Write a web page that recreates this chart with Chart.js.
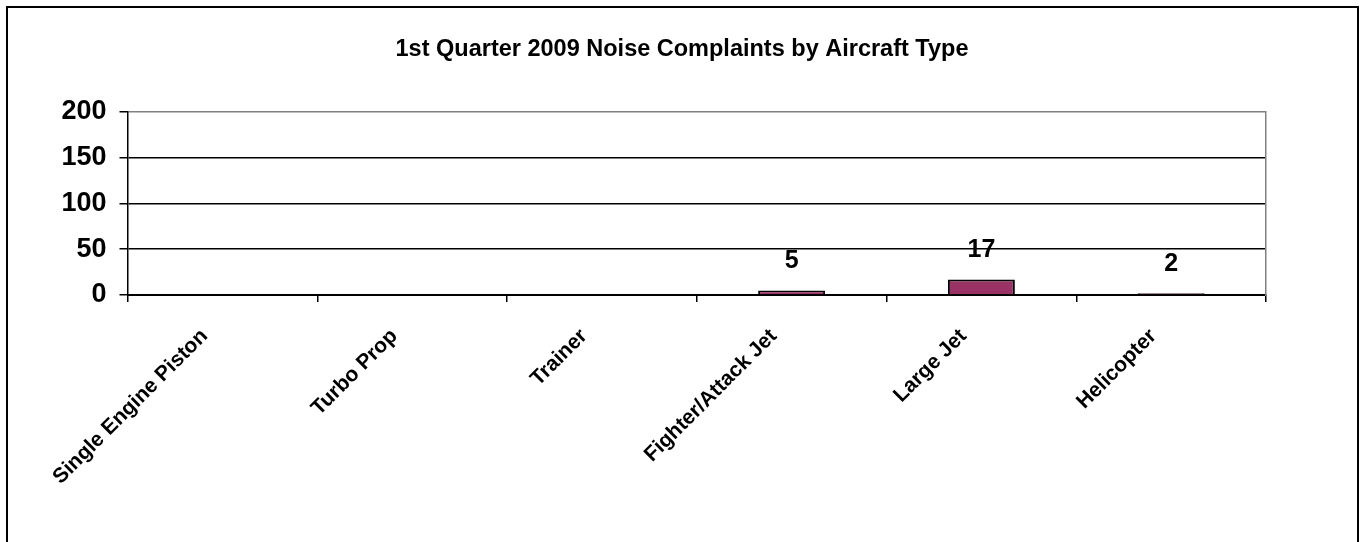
<!DOCTYPE html>
<html>
<head>
<meta charset="utf-8">
<title>1st Quarter 2009 Noise Complaints by Aircraft Type</title>
<script src="https://cdn.jsdelivr.net/npm/chart.js@4.4.1/dist/chart.umd.min.js"></script>
<style>
  html, body { margin: 0; padding: 0; background: #fff; overflow: hidden; }
  #frame { position: absolute; left: 6px; top: 6px; width: 1353px; height: 600px; border: 2px solid #000; box-sizing: border-box; }
  #chart { position: absolute; left: 0; top: 0; }
</style>
</head>
<body>
<div id="frame"></div>
<canvas id="chart" width="1364" height="542"></canvas>
<script>
// chart data
const categories = ['Single Engine Piston', 'Turbo Prop', 'Trainer', 'Fighter/Attack Jet', 'Large Jet', 'Helicopter'];
const complaints = [0, 0, 0, 5, 17, 2];
const yTicks = [0, 50, 100, 150, 200];

const FONT = '"Liberation Sans", Arial, Helvetica, sans-serif';

// draws the value above each bar (only non-zero ones, like the original)
const valueLabels = {
    id: 'valueLabels',
    afterDatasetsDraw(chart) {
        const ctx = chart.ctx;
        const meta = chart.getDatasetMeta(0);
        ctx.save();
        ctx.font = 'bold 25px ' + FONT;
        ctx.fillStyle = '#000';
        ctx.textAlign = 'center';
        ctx.textBaseline = 'middle';
        meta.data.forEach((bar, i) => {
            const v = complaints[i];
            if (!v) return;
            ctx.fillText(String(v), bar.x, bar.y - 29);
        });
        ctx.restore();
    }
};

new Chart(document.getElementById('chart'), {
    type: 'bar',
    data: {
        labels: categories,
        datasets: [{
            label: 'Complaints',
            data: complaints,
            backgroundColor: '#993366',
            borderColor: '#000',
            borderWidth: 2,
            barPercentage: 0.353,
            categoryPercentage: 1
        }]
    },
    options: {
        responsive: false,
        animation: false,
        devicePixelRatio: 1,
        layout: { padding: 0 },
        plugins: {
            legend: { display: false },
            tooltip: { enabled: false },
            title: {
                display: true,
                text: '1st Quarter 2009 Noise Complaints by Aircraft Type',
                color: '#000',
                font: { family: FONT, size: 23.5, weight: 'bold', lineHeight: 1.2 },
                padding: { top: 35, bottom: 48.5 }
            }
        },
        scales: {
            x: {
                grid: { drawOnChartArea: false, drawTicks: true, tickLength: 7, color: '#000', lineWidth: 1.5 },
                border: { color: '#000', width: 2 },
                ticks: {
                    color: '#000',
                    font: { family: FONT, size: 21, weight: 'bold' },
                    minRotation: 45,
                    maxRotation: 45,
                    padding: 22,
                    labelOffset: -18,
                    autoSkip: false
                },
                afterFit(scale) { scale.height = 247; }
            },
            y: {
                min: 0,
                max: 200,
                afterBuildTicks(scale) { scale.ticks = yTicks.map(v => ({ value: v })); },
                grid: {
                    color: c => (c.tick && c.tick.value === 200) ? '#808080' : '#000',
                    tickColor: '#000',
                    lineWidth: 1.5,
                    tickLength: 8
                },
                border: { color: '#000', width: 1.5 },
                ticks: {
                    color: '#000',
                    font: { family: FONT, size: 27, weight: 'bold' },
                    padding: 13
                },
                afterFit(scale) { scale.width = 127.5; }
            },
            yRight: {
                position: 'right',
                display: true,
                grid: { drawOnChartArea: false, drawTicks: false },
                border: { color: '#808080', width: 1.5 },
                ticks: { display: false },
                afterFit(scale) { scale.width = 98; }
            }
        }
    },
    plugins: [valueLabels]
});
</script>
</body>
</html>
